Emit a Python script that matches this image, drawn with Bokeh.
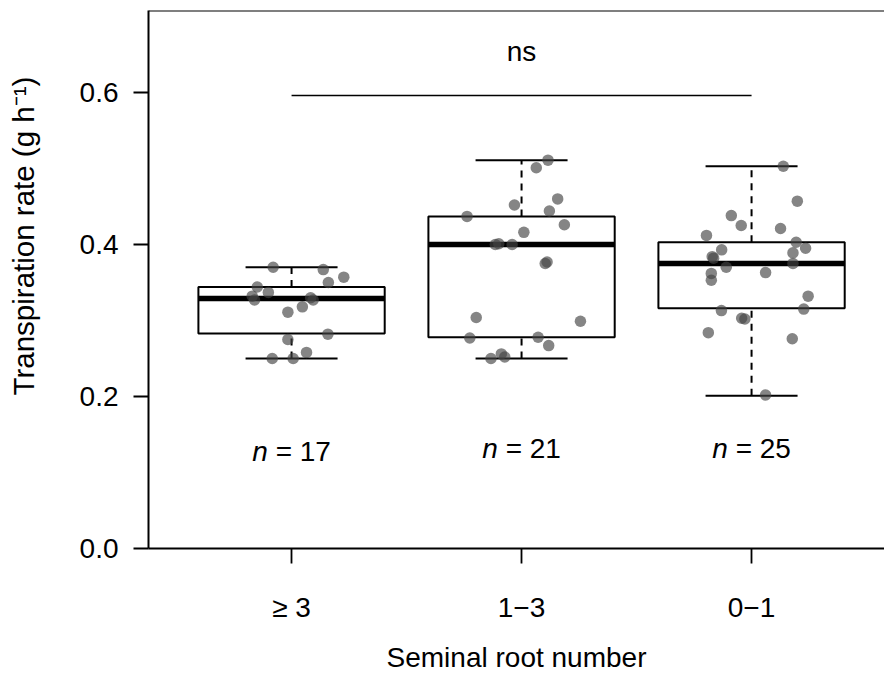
import math
from bokeh.plotting import figure
from bokeh.layouts import row
from bokeh.models import Range1d, FixedTicker, Span, ColumnDataSource
from bokeh.core.properties import value
from bokeh.embed import file_html
from bokeh.resources import INLINE

# ---------------- data ----------------
categories = ["≥ 3", "1−3", "0−1"]
n_counts = ["17", "21", "25"]

whisker_low = [0.250, 0.250, 0.201]
q1 = [0.283, 0.278, 0.316]
median = [0.329, 0.400, 0.375]
q3 = [0.344, 0.437, 0.403]
whisker_high = [0.370, 0.511, 0.503]

g1_values = [0.370, 0.367, 0.357, 0.350, 0.344, 0.337, 0.332, 0.327, 0.327,
             0.330, 0.318, 0.311, 0.282, 0.275, 0.258, 0.250, 0.250]
g1_jitter = [-0.080, 0.138, 0.227, 0.160, -0.149, -0.101, -0.171, -0.161, 0.094,
             0.083, 0.047, -0.016, 0.158, -0.016, 0.065, -0.084, 0.007]

g2_values = [0.511, 0.501, 0.460, 0.452, 0.444, 0.437, 0.426, 0.416, 0.400, 0.401,
             0.400, 0.375, 0.377, 0.304, 0.299, 0.277, 0.278, 0.267, 0.250, 0.256, 0.252]
g2_jitter = [0.115, 0.064, 0.157, -0.031, 0.121, -0.237, 0.186, 0.010, -0.114, -0.099,
             -0.041, 0.103, 0.111, -0.197, 0.256, -0.225, 0.072, 0.118, -0.133, -0.088, -0.073]

g3_values = [0.503, 0.457, 0.438, 0.425, 0.421, 0.412, 0.403, 0.393, 0.395, 0.389,
             0.384, 0.382, 0.370, 0.375, 0.362, 0.353, 0.363, 0.332, 0.313, 0.315,
             0.303, 0.302, 0.284, 0.276, 0.202]
g3_jitter = [0.138, 0.199, -0.088, -0.045, 0.126, -0.196, 0.194, -0.130, 0.235, 0.180,
             -0.171, -0.165, -0.110, 0.180, -0.175, -0.175, 0.061, 0.246, -0.131, 0.227,
             -0.043, -0.029, -0.188, 0.177, 0.061]

y_ticks = [0.0, 0.2, 0.4, 0.6]
ns_line_y = 0.596
ns_text_y = 0.654
n_label_y = [0.1276, 0.132, 0.132]
y_label_text = "Transpiration rate (g h\u207b\u00b9)"

# ---------------- layout constants ----------------
FONT = "Liberation Sans"
FS = "28px"
H = 675
LEFT_W = 44          # strip holding the rotated y-axis title
MAIN_W = 884 - LEFT_W

xpos = [i + 1 for i in range(len(categories))]
X0, X1 = 0.378, 3.578
Y1 = 0.70789

# ---------------- y-title strip ----------------
lab = figure(width=LEFT_W, height=H, output_backend="svg", toolbar_location=None,
             x_range=Range1d(0, LEFT_W), y_range=Range1d(0, H),
             min_border_left=0, min_border_right=0, min_border_top=0, min_border_bottom=0)
lab.axis.visible = False
lab.grid.visible = False
lab.outline_line_color = None
lab.background_fill_color = "white"
lab.border_fill_color = "white"
lab.text(x=[23], y=[H - 283], text=[y_label_text], angle=math.pi / 2,
         text_font=value(FONT), text_font_size="29.5px", text_align="center",
         text_baseline="middle", text_color="black")

# ---------------- main plot ----------------
p = figure(width=MAIN_W, height=H, output_backend="svg", toolbar_location=None,
           x_range=Range1d(X0, X1), y_range=Range1d(0, Y1),
           min_border_left=148 - LEFT_W, min_border_right=0, min_border_top=10,
           min_border_bottom=127)
p.grid.visible = False
p.outline_line_color = None
p.background_fill_color = "white"
p.border_fill_color = "white"

# top border of the frame
p.add_layout(Span(location=Y1, dimension="width", line_color="black", line_width=2))

# whiskers (dashed)
p.segment(x0=xpos, y0=q3, x1=xpos, y1=whisker_high, line_color="black",
          line_width=2, line_dash="7 6")
p.segment(x0=xpos, y0=whisker_low, x1=xpos, y1=q1, line_color="black",
          line_width=2, line_dash="7 6")
# whisker caps
cap_half = 0.2
p.segment(x0=[x - cap_half for x in xpos], y0=whisker_high,
          x1=[x + cap_half for x in xpos], y1=whisker_high, line_color="black", line_width=2)
p.segment(x0=[x - cap_half for x in xpos], y0=whisker_low,
          x1=[x + cap_half for x in xpos], y1=whisker_low, line_color="black", line_width=2)
# boxes
p.vbar(x=xpos, width=0.81, top=q3, bottom=q1, fill_color="white",
       line_color="black", line_width=2)
# medians
box_half = 0.405
p.segment(x0=[x - box_half for x in xpos], y0=median,
          x1=[x + box_half for x in xpos], y1=median, line_color="black", line_width=5.5)

# points
for gi, (vals, jit) in enumerate([(g1_values, g1_jitter), (g2_values, g2_jitter),
                                  (g3_values, g3_jitter)]):
    src = ColumnDataSource(dict(x=[xpos[gi] + j for j in jit], y=vals))
    p.scatter("x", "y", source=src, size=11.5, fill_color="#444444", fill_alpha=0.65,
              line_color=None)

# significance line and label
p.segment(x0=[xpos[0]], y0=[ns_line_y], x1=[xpos[-1]], y1=[ns_line_y],
          line_color="black", line_width=1.6)
p.text(x=[xpos[1]], y=[ns_text_y], text=["ns"], text_font=value(FONT),
       text_font_size=FS, text_align="center", text_baseline="alphabetic")

# n labels: italic "n" followed by "= NN"
p.text(x=xpos, y=n_label_y, text=["n"] * len(xpos), text_font=value(FONT),
       text_font_size=FS, text_font_style="italic", text_align="right",
       text_baseline="alphabetic", x_offset=-23.7)
p.text(x=xpos, y=n_label_y, text=["= " + c for c in n_counts], text_font=value(FONT),
       text_font_size=FS, text_align="left", text_baseline="alphabetic", x_offset=-15.9)

# axes
for ax in (p.xaxis[0], p.yaxis[0]):
    ax.axis_line_width = 2
    ax.axis_line_color = "black"
    ax.major_tick_line_width = 1.8
    ax.major_tick_line_color = "black"
    ax.major_tick_out = 15
    ax.major_tick_in = 0
    ax.minor_tick_out = 0
    ax.minor_tick_in = 0
    ax.major_label_text_font = FONT
    ax.major_label_text_font_size = FS
    ax.major_label_text_color = "black"
    ax.axis_label_text_font = FONT
    ax.axis_label_text_font_size = FS
    ax.axis_label_text_font_style = "normal"
    ax.axis_label_text_color = "black"

p.xaxis.ticker = FixedTicker(ticks=xpos)
p.xaxis.major_label_overrides = {x: c for x, c in zip(xpos, categories)}
p.xaxis.major_label_standoff = 28
p.xaxis.axis_label = "Seminal root number"
p.xaxis.axis_label_standoff = 16

p.yaxis.ticker = FixedTicker(ticks=y_ticks)
p.yaxis.major_label_overrides = {t: f"{t:.1f}" for t in y_ticks}
p.yaxis.major_label_standoff = 15

layout = row(lab, p, spacing=0)
open("out.html", "w").write(file_html(layout, INLINE))
